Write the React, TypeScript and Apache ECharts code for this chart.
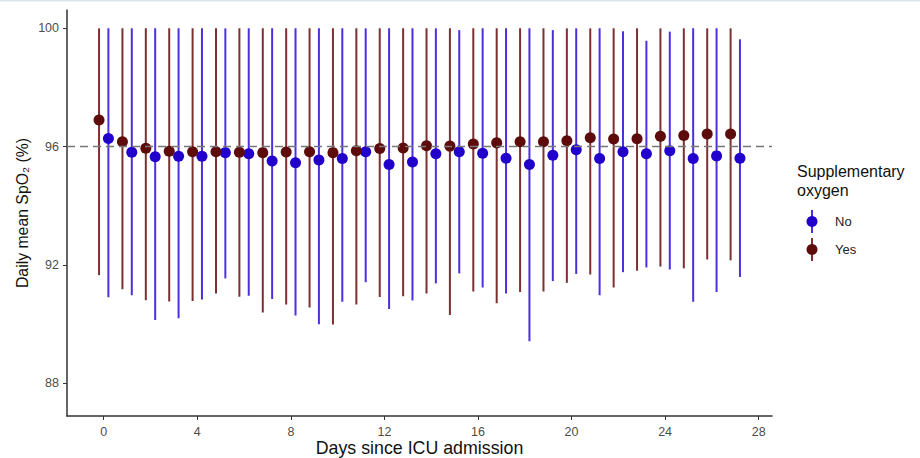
import React, { useEffect, useRef } from "react";
import * as echarts from "echarts";

const days = [0, 1, 2, 3, 4, 5, 6, 7, 8, 9, 10, 11, 12, 13, 14, 15, 16, 17, 18, 19, 20, 21, 22, 23, 24, 25, 26, 27];

const yesMean = [96.9, 96.17, 95.95, 95.85, 95.83, 95.83, 95.81, 95.8, 95.82, 95.83, 95.8, 95.86, 95.94, 95.96, 96.03, 96.02, 96.09, 96.13, 96.17, 96.17, 96.2, 96.3, 96.26, 96.27, 96.35, 96.38, 96.43, 96.43];
const yesLow = [91.66, 91.18, 90.81, 90.77, 90.79, 91.04, 90.93, 90.4, 90.67, 90.57, 89.99, 90.67, 90.92, 90.95, 91.04, 90.31, 91.11, 90.71, 91.09, 91.11, 91.4, 91.68, 91.24, 91.81, 91.95, 91.89, 92.19, 92.16];
const yesHigh = [100, 100, 100, 100, 100, 100, 100, 100, 100, 100, 100, 100, 100, 100, 100, 100, 100, 100, 100, 100, 100, 100, 100, 100, 100, 100, 100, 100];

const noMean = [96.28, 95.81, 95.66, 95.68, 95.68, 95.8, 95.76, 95.52, 95.46, 95.55, 95.6, 95.83, 95.4, 95.48, 95.76, 95.83, 95.78, 95.61, 95.4, 95.71, 95.9, 95.6, 95.83, 95.76, 95.86, 95.6, 95.69, 95.61];
const noLow = [90.91, 90.98, 90.14, 90.2, 90.84, 91.55, 90.96, 90.85, 90.3, 90.0, 90.76, 91.42, 90.52, 90.8, 91.38, 91.72, 91.24, 91.04, 89.43, 91.46, 91.7, 90.98, 91.76, 91.92, 91.85, 90.76, 91.09, 91.6];
const noHigh = [100, 100, 100, 100, 100, 100, 100, 100, 100, 100, 100, 100, 100, 100, 100, 99.94, 100, 100, 100, 99.94, 100, 100, 99.9, 99.58, 99.89, 100, 100, 99.63];

const xTicks = [0, 4, 8, 12, 16, 20, 24, 28];
const yTicks = [88, 92, 96, 100];
const refLine = 96;

const seriesNames = ["No", "Yes"];
const legendTitle = "Supplementary\noxygen";

const NO_POINT = "#2200CC";
const NO_LINE = "#4A30E0";
const YES_POINT = "#5E0B0B";
const YES_LINE = "#7D3030";

export default function App() {
  const ref = useRef<HTMLDivElement>(null);

  useEffect(() => {
    const chart = echarts.init(ref.current!, null, { renderer: "svg" });
    const DODGE = 0.2;
    const yesBars = days.map((d, i) => [d - DODGE, yesLow[i], yesHigh[i]]);
    const noBars = days.map((d, i) => [d + DODGE, noLow[i], noHigh[i]]);
    const yesPts = days.map((d, i) => [d - DODGE, yesMean[i]]);
    const noPts = days.map((d, i) => [d + DODGE, noMean[i]]);

    const errRender = (color: string) => (params: any, api: any) => {
      const x = api.value(0);
      const p1 = api.coord([x, api.value(1)]);
      const p2 = api.coord([x, api.value(2)]);
      return {
        type: "line",
        shape: { x1: p1[0], y1: p1[1], x2: p2[0], y2: p2[1] },
        style: { stroke: color, lineWidth: 2 },
      };
    };

    const font = "'Liberation Sans', Arial, sans-serif";
    const lx = 812;

    chart.setOption({
      animation: false,
      backgroundColor: "#ffffff",
      textStyle: { fontFamily: font },
      grid: { left: 67, right: 148, top: 10, bottom: 42, containLabel: false, outerBoundsMode: "none" },
      xAxis: {
        type: "value",
        min: -1.57,
        max: 28.57,
        name: "Days since ICU admission",
        nameLocation: "middle",
        nameGap: 32,
        nameMoveOverlap: false,
        nameTextStyle: { fontSize: 17.8, color: "#111", fontFamily: font, verticalAlign: "middle" },
        axisLine: { show: true, onZero: false, lineStyle: { color: "#333", width: 1.5 } },
        axisTick: { show: true, customValues: xTicks, length: 4, lineStyle: { color: "#333" } },
        axisLabel: { customValues: xTicks, fontSize: 12.5, color: "#4d4d4d", margin: 9, fontFamily: font },
        splitLine: { show: false },
      },
      yAxis: {
        type: "value",
        min: 86.9,
        max: 100.62,
        name: "Daily mean SpO₂ (%)",
        nameLocation: "middle",
        nameRotate: 90,
        nameGap: 37,
        nameMoveOverlap: false,
        nameTextStyle: { fontSize: 15.8, color: "#111", fontFamily: font },
        axisLine: { show: true, onZero: false, lineStyle: { color: "#333", width: 1.5 } },
        axisTick: { show: true, customValues: yTicks, length: 4, lineStyle: { color: "#333" } },
        axisLabel: { customValues: yTicks, fontSize: 12.5, color: "#4d4d4d", margin: 8, fontFamily: font },
        splitLine: { show: false },
      },
      series: [
        {
          type: "custom",
          name: "No bars",
          renderItem: errRender(NO_LINE),
          data: noBars,
          encode: { x: 0, y: [1, 2] },
          z: 2,
          silent: true,
        },
        {
          type: "custom",
          name: "Yes bars",
          renderItem: errRender(YES_LINE),
          data: yesBars,
          encode: { x: 0, y: [1, 2] },
          z: 2,
          silent: true,
          markLine: {
            silent: true,
            symbol: "none",
            label: { show: false },
            lineStyle: { color: "#777", type: [8, 5], width: 1.3 },
            data: [{ yAxis: refLine }],
          },
        },
        {
          type: "scatter",
          name: seriesNames[0],
          data: noPts,
          symbol: "circle",
          symbolSize: 11,
          itemStyle: { color: NO_POINT, opacity: 1 },
          z: 4,
        },
        {
          type: "scatter",
          name: seriesNames[1],
          data: yesPts,
          symbol: "circle",
          symbolSize: 11,
          itemStyle: { color: YES_POINT, opacity: 1 },
          z: 4,
        },
      ],
      graphic: [
        { type: "rect", shape: { x: 0, y: 0, width: 920, height: 1.5 }, style: { fill: "#dfe5f0" } },
        {
          type: "text",
          x: 797,
          y: 162,
          style: { text: legendTitle, fontSize: 16, fill: "#111", fontFamily: font, lineHeight: 19 },
        },
        { type: "line", shape: { x1: lx, y1: 210, x2: lx, y2: 233 }, style: { stroke: NO_LINE, lineWidth: 2 } },
        { type: "circle", shape: { cx: lx, cy: 221.5, r: 5.5 }, style: { fill: NO_POINT } },
        { type: "text", x: 835, y: 221.5, style: { text: seriesNames[0], fontSize: 13, fill: "#222", fontFamily: font, verticalAlign: "middle" } },
        { type: "line", shape: { x1: lx, y1: 238, x2: lx, y2: 261 }, style: { stroke: YES_LINE, lineWidth: 2 } },
        { type: "circle", shape: { cx: lx, cy: 249.5, r: 5.5 }, style: { fill: YES_POINT } },
        { type: "text", x: 835, y: 249.5, style: { text: seriesNames[1], fontSize: 13, fill: "#222", fontFamily: font, verticalAlign: "middle" } },
      ],
    });
    return () => chart.dispose();
  }, []);

  return <div ref={ref} style={{ position: "fixed", left: 0, top: 0, width: 920, height: 458 }} />;
}
